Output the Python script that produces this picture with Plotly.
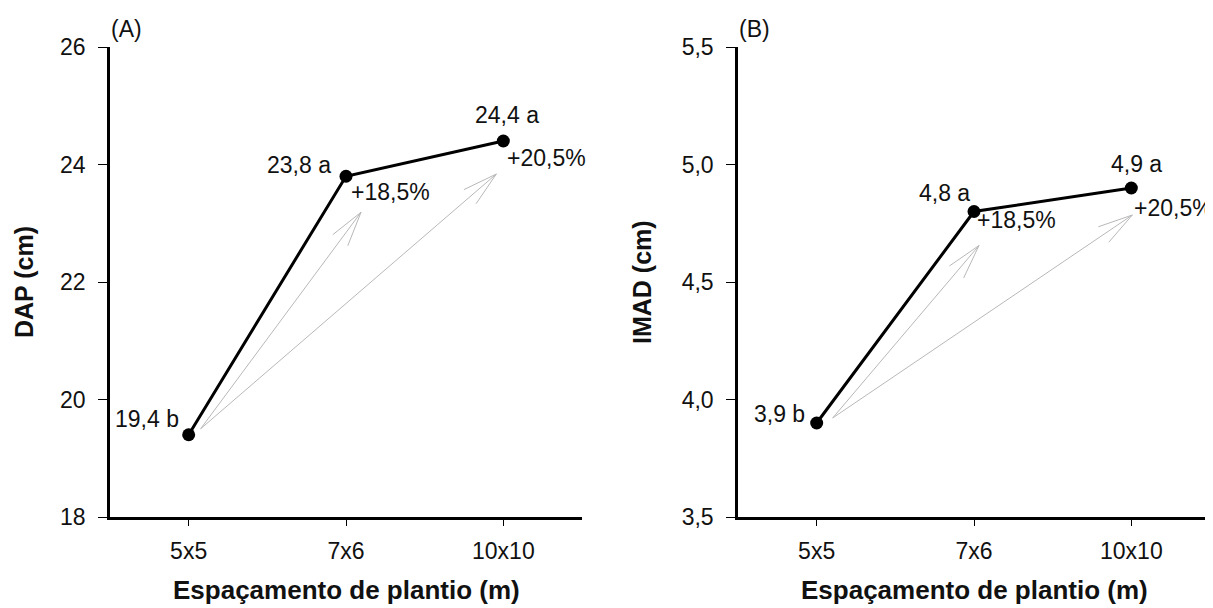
import math
import plotly.graph_objects as go

# ---------------- data ----------------
categories = ["5x5", "7x6", "10x10"]
dap_values = [19.4, 23.8, 24.4]
imad_values = [3.9, 4.8, 4.9]
dap_letters = ["b", "a", "a"]
imad_letters = ["b", "a", "a"]
gain_labels = ["+18,5%", "+20,5%"]      # gain of 7x6 and 10x10 over 5x5
dap_ticks = [18, 20, 22, 24, 26]
imad_ticks = [3.5, 4.0, 4.5, 5.0, 5.5]
x_title = "Espaçamento de plantio (m)"
y_title_a = "DAP (cm)"
y_title_b = "IMAD (cm)"
panel_tags = ["(A)", "(B)"]

# ---------------- layout geometry ----------------
OFF = 8                       # page body margin of the html page
W, H = 1213 - OFF, 608 - OFF  # figure size so that it fills the window
FONT = "Arial, Liberation Sans, sans-serif"


def PX(px):   # window pixel -> paper x
    return (px - OFF) / W


def PY(py):   # window pixel -> paper y
    return 1 - (py - OFF) / H


xdom_a = [PX(110), PX(582)]
xdom_b = [PX(738), PX(1210)]
ydom = [PY(517), PY(47)]
xrange_ = [0.5, 3.5]
yrange_a = [18, 26]
yrange_b = [3.5, 5.5]
xpos = [1, 2, 3]


def fmt(v):
    return f"{v:.1f}".replace(".", ",")


fig = go.Figure()

panels = [
    dict(vals=dap_values, letters=dap_letters, xd=xdom_a, yr=yrange_a,
         xa="x", ya="y", tag=panel_tags[0], ytitle=y_title_a, ytitle_px=24,
         lab_off=[(-8, 16, "right"), (-13, 11, "right"), (4, 26, "center")],
         pct_off=[(3, -16), (2, -17)],
         tail_off=(12, -6), tip_off=[(15, 36), (-7, 33)]),
    dict(vals=imad_values, letters=imad_letters, xd=xdom_b, yr=yrange_b,
         xa="x2", ya="y2", tag=panel_tags[1], ytitle=y_title_b, ytitle_px=642,
         lab_off=[(-10, 9, "right"), (-2, 18, "right"), (5, 24, "center")],
         pct_off=[(1, -9), (1, -20)],
         tail_off=(16, -5), tip_off=[(5, 34), (1, 27)]),
]

annotations = []
for p in panels:
    xd, yr = p["xd"], p["yr"]
    sx = (xd[1] - xd[0]) * W / (xrange_[1] - xrange_[0])   # px per x unit
    sy = (ydom[1] - ydom[0]) * H / (yr[1] - yr[0])          # px per y unit

    # grey comparison arrows (5x5 -> 7x6, 5x5 -> 10x10)
    tx = xpos[0] + p["tail_off"][0] / sx
    ty = p["vals"][0] - p["tail_off"][1] / sy
    ax_x, ax_y = [], []
    for i, (ox, oy) in zip([1, 2], p["tip_off"]):
        hx = xpos[i] + ox / sx
        hy = p["vals"][i] - oy / sy
        dxp = (hx - tx) * sx
        dyp = (hy - ty) * sy
        ang = math.atan2(dyp, dxp)
        L, half = 36, math.radians(15)
        b = []
        for s in (+1, -1):
            a = ang + math.pi + s * half
            b.append((hx + L * math.cos(a) / sx, hy + L * math.sin(a) / sy))
        ax_x += [tx, hx, None, b[0][0], hx, b[1][0], None]
        ax_y += [ty, hy, None, b[0][1], hy, b[1][1], None]
    fig.add_trace(go.Scatter(x=ax_x, y=ax_y, mode="lines", xaxis=p["xa"], yaxis=p["ya"],
                             line=dict(color="#b8b8b8", width=1), hoverinfo="skip",
                             showlegend=False))

    # main series
    fig.add_trace(go.Scatter(x=xpos, y=p["vals"], mode="lines+markers",
                             xaxis=p["xa"], yaxis=p["ya"],
                             line=dict(color="black", width=3),
                             marker=dict(color="black", size=13),
                             showlegend=False))

    # value labels
    for i, (v, l) in enumerate(zip(p["vals"], p["letters"])):
        ox, oy, anc = p["lab_off"][i]
        annotations.append(dict(x=xpos[i], y=v, xref=p["xa"], yref=p["ya"],
                                text=f"{fmt(v)} {l}", showarrow=False,
                                xanchor=anc, yanchor="middle", xshift=ox, yshift=oy,
                                font=dict(family=FONT, size=23, color="#111")))
    for k, g in enumerate(gain_labels):
        i = k + 1
        ox, oy = p["pct_off"][k]
        annotations.append(dict(x=xpos[i], y=p["vals"][i], xref=p["xa"], yref=p["ya"],
                                text=g, showarrow=False, xanchor="left", yanchor="middle",
                                xshift=ox, yshift=oy,
                                font=dict(family=FONT, size=23, color="#111")))
    # panel tag
    annotations.append(dict(x=xd[0], y=PY(29), xref="paper", yref="paper",
                            text=p["tag"], showarrow=False, xanchor="left", yanchor="middle",
                            xshift=-1, font=dict(family=FONT, size=23, color="#111")))
    # axis titles
    annotations.append(dict(x=(xd[0] + xd[1]) / 2, y=PY(590), xref="paper", yref="paper",
                            text=f"<b>{x_title}</b>", showarrow=False,
                            xanchor="center", yanchor="middle",
                            font=dict(family=FONT, size=26, color="#111")))
    annotations.append(dict(x=PX(p["ytitle_px"]), y=(ydom[0] + ydom[1]) / 2,
                            xref="paper", yref="paper", textangle=-90,
                            text=f"<b>{p['ytitle']}</b>", showarrow=False,
                            xanchor="center", yanchor="middle",
                            font=dict(family=FONT, size=25, color="#111")))

xaxis_common = dict(range=xrange_, tickvals=xpos, ticktext=categories, automargin=False,
                    showline=True, linewidth=2.5, linecolor="black", showgrid=False,
                    zeroline=False, ticks="outside", ticklen=6, tickwidth=1.2,
                    tickcolor="black", ticklabelstandoff=6,
                    tickfont=dict(family=FONT, size=23, color="#111"), fixedrange=True)
yaxis_common = dict(showline=True, linewidth=2.5, linecolor="black", showgrid=False,
                    automargin=False,
                    zeroline=False, ticks="outside", ticklen=9, tickwidth=1.2,
                    tickcolor="black", ticklabelstandoff=8,
                    tickfont=dict(family=FONT, size=23, color="#111"), fixedrange=True)

fig.update_layout(
    width=W, height=H, margin=dict(l=0, r=0, t=0, b=0, autoexpand=False),
    paper_bgcolor="white", plot_bgcolor="white",
    separators=",.",
    xaxis=dict(domain=xdom_a, anchor="y", **xaxis_common),
    yaxis=dict(domain=ydom, anchor="x", range=yrange_a, tickvals=dap_ticks,
               ticktext=[str(t) for t in dap_ticks], **yaxis_common),
    xaxis2=dict(domain=xdom_b, anchor="y2", **xaxis_common),
    yaxis2=dict(domain=ydom, anchor="x2", range=yrange_b, tickvals=imad_ticks,
                ticktext=[fmt(t) for t in imad_ticks], **yaxis_common),
    annotations=annotations,
    showlegend=False,
)

fig.write_html("out.html")
